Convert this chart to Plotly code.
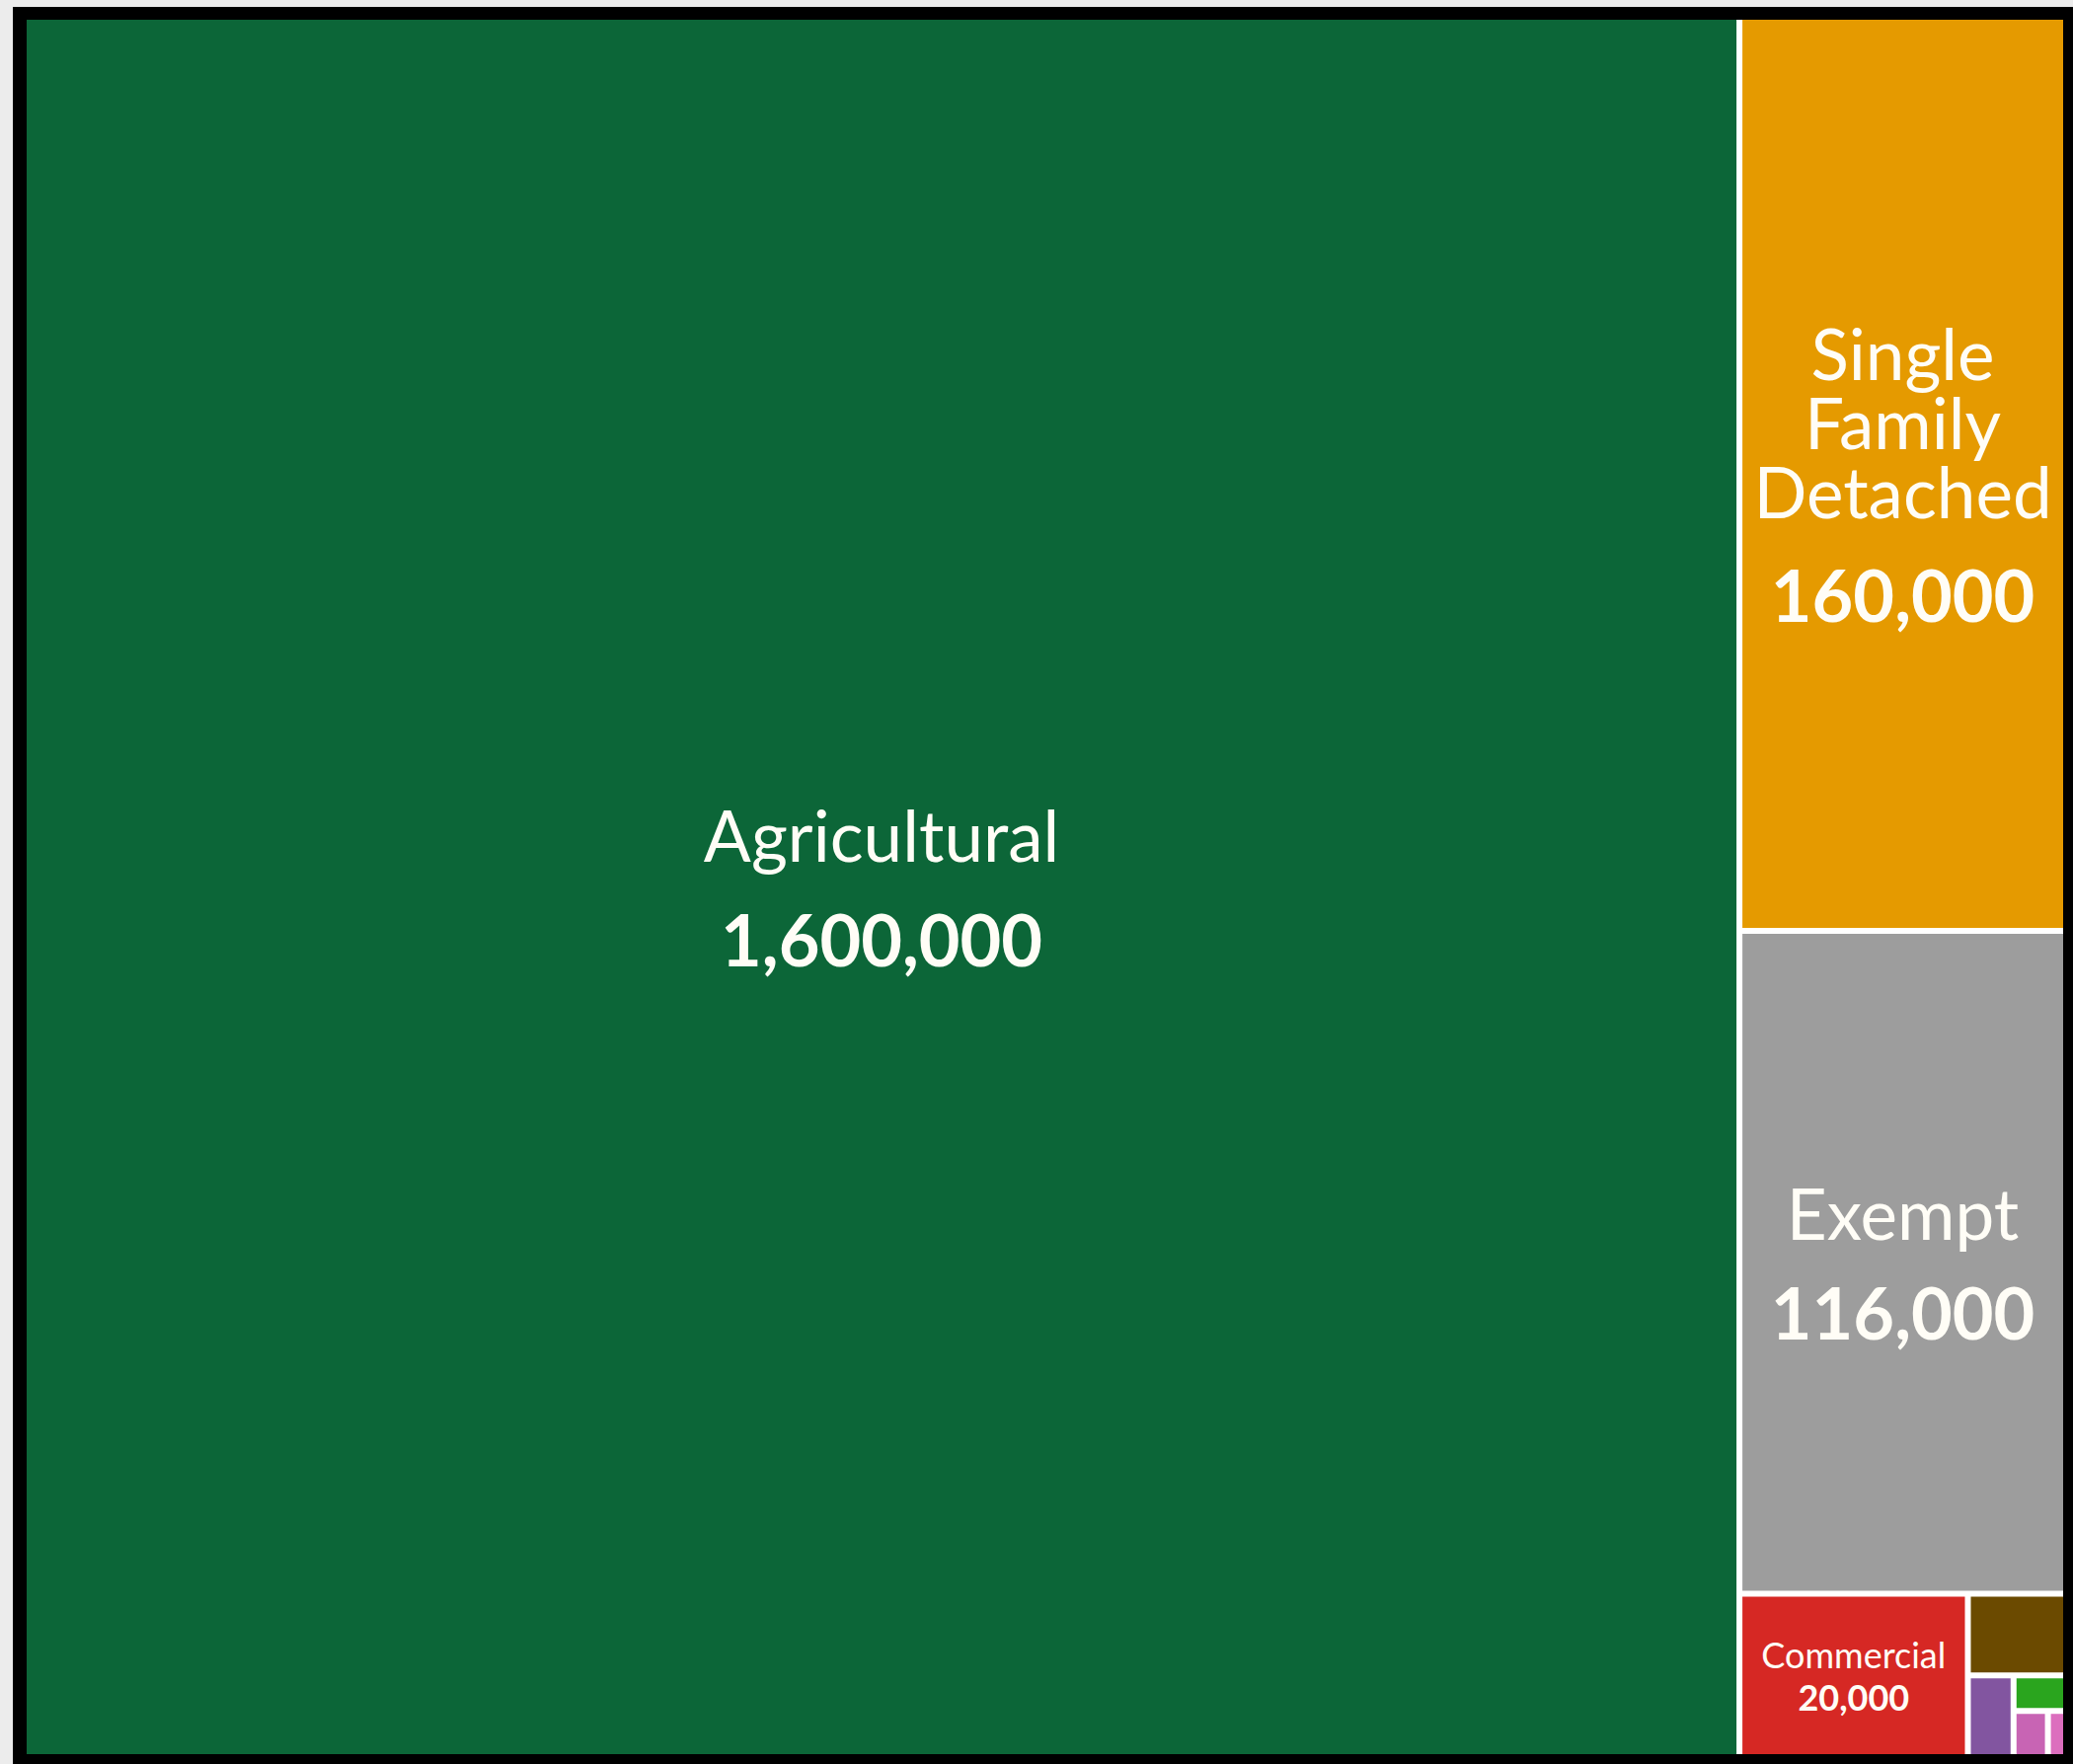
import plotly.graph_objects as go

# Data
categories = ["Agricultural", "Single Family Detached", "Exempt", "Commercial",
              "Multi-Family", "Industrial", "Vacant", "Mobile Home", "Other"]
display_lines = [["Agricultural"], ["Single", "Family", "Detached"], ["Exempt"], ["Commercial"],
                 [], [], [], [], []]
values = [1600000, 160000, 116000, 20000, 4300, 1000, 2000, 850, 450]
colors = ["#0c6638", "#e59a00", "#9d9d9d", "#d62824", "#6b4a00",
          "#2aa51e", "#8255a0", "#c864b4", "#dc6ebe"]

# Styling per tile: (base size controlling line spacing, name size, value size, blank lines)
styles = [(27, 71, 72, 2), (27, 71, 72, 2), (26, 71, 72, 2), (33, 36, 36, 0),
          (10, 10, 10, 0), (10, 10, 10, 0), (10, 10, 10, 0), (10, 10, 10, 0), (10, 10, 10, 0)]


def make_text(lines, v, st):
    if not lines:
        return ""
    base, ns, vs, gap = st
    sep = "<br>" * (1 + (1 if gap else 0))
    name = sep.join(f"<span style='font-size:{ns}px'>{ln}</span>" for ln in lines)
    return name + "<br>" * (1 + gap) + f"<b><span style='font-size:{vs}px'>{v:,}</span></b>"


texts = [make_text(l, v, s) for l, v, s in zip(display_lines, values, styles)]

W, H = 2100, 1787
x0, x1 = 27 / W, 2090 / W
y0, y1 = (H - 1777) / H, (H - 20) / H

ids = ["root"] + categories
labels = ["All"] + categories
parents = [""] + ["root"] * len(categories)
vals = [0] + values
txt = [""] + texts
cols = ["white"] + colors
sizes = [10] + [s[0] for s in styles]

fig = go.Figure(go.Treemap(
    ids=ids,
    labels=labels,
    parents=parents,
    values=vals,
    branchvalues="remainder",
    text=txt,
    textinfo="text",
    textposition="middle center",
    textfont=dict(family="Lato", color="#fffdf6", size=sizes),
    marker=dict(colors=cols, line=dict(color="white", width=0),
                pad=dict(t=0, l=0, r=0, b=0)),
    tiling=dict(pad=6),
    domain=dict(x=[x0, x1], y=[y0, y1]),
    pathbar=dict(visible=False),
))

fig.update_layout(
    width=W, height=H,
    margin=dict(l=0, r=0, t=0, b=0, pad=0),
    paper_bgcolor="black",
    showlegend=False,
    shapes=[
        dict(type="rect", xref="paper", yref="paper", x0=0, x1=13 / W, y0=0, y1=1,
             fillcolor="#ececec", line=dict(width=0), layer="above"),
        dict(type="rect", xref="paper", yref="paper", x0=0, x1=1, y0=1 - 7 / H, y1=1,
             fillcolor="#ececec", line=dict(width=0), layer="above"),
    ],
)

fig.write_html(
    "out.html",
    config={"displayModeBar": False},
    post_script="document.body.style.margin='0';document.body.style.overflow='hidden';",
)
